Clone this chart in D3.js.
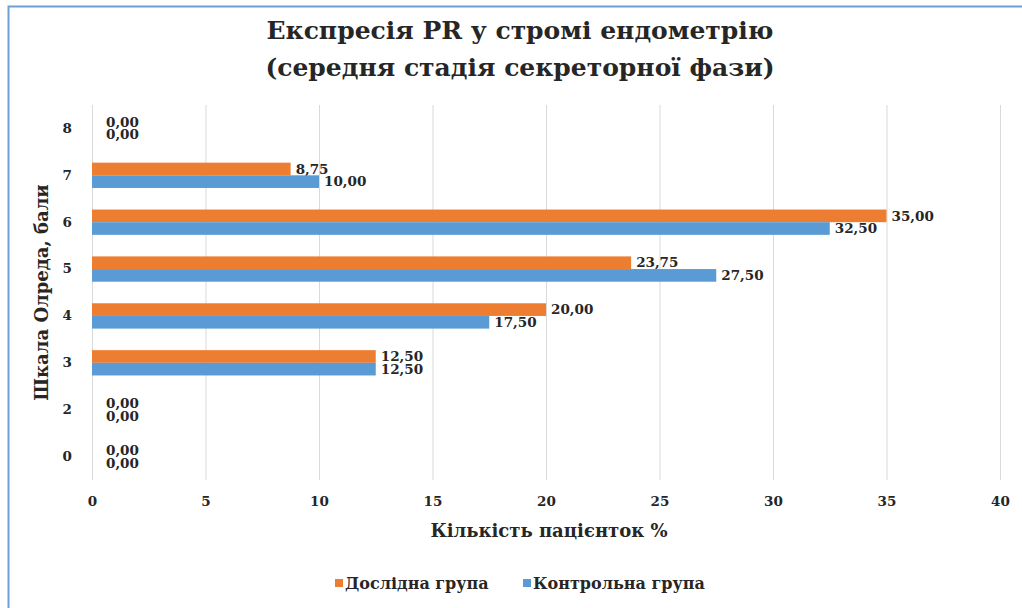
<!DOCTYPE html>
<html>
<head>
<meta charset="utf-8">
<script src="https://cdn.jsdelivr.net/npm/d3@7"></script>
<style>
  html, body { margin: 0; padding: 0; background: #ffffff; }
  svg { display: block; }
  text { font-family: "DejaVu Serif", "Liberation Serif", serif; font-weight: bold; }
</style>
</head>
<body>
<script>
// Allred score categories, listed top to bottom
const categories = ["8", "7", "6", "5", "4", "3", "2", "0"];
// Share of patients, %
const seriesNames = ["Дослідна група", "Контрольна група"];
const studyGroup = [0, 8.75, 35, 23.75, 20, 12.5, 0, 0];
const controlGroup = [0, 10, 32.5, 27.5, 17.5, 12.5, 0, 0];
const xTicks = [0, 5, 10, 15, 20, 25, 30, 35, 40];
const titleLines = ["Експресія PR у стромі ендометрію", "(середня стадія секреторної фази)"];
const xTitle = "Кількість пацієнток %";
const yTitle = "Шкала Олреда, бали";

const W = 1022, H = 608;
const colors = ["#ED7D31", "#5B9BD5"];
const ink = "#262626";
const plot = { left: 92, right: 1000, top: 105, bottom: 480 };

const svg = d3.select("body").append("svg").attr("width", W).attr("height", H);

// outer frame
svg.append("rect")
  .attr("x", 8.5).attr("y", 6.5).attr("width", W + 10).attr("height", H + 10)
  .attr("fill", "#ffffff").attr("stroke", "#6A9FD8").attr("stroke-width", 2);

const x = d3.scaleLinear().domain([0, 40]).range([plot.left, plot.right]);
const y = d3.scaleBand().domain(categories).range([plot.top, plot.bottom])
  .paddingInner(0.46).paddingOuter(0.23);
const ySub = d3.scaleBand().domain([0, 1]).range([0, y.bandwidth()]);

// vertical gridlines
svg.append("g").selectAll("line").data(xTicks).join("line")
  .attr("x1", d => x(d) + 0.5).attr("x2", d => x(d) + 0.5)
  .attr("y1", plot.top).attr("y2", plot.bottom)
  .attr("stroke", "#D9D9D9").attr("stroke-width", 1);

// x tick labels
const xAxis = d3.axisBottom(x).tickValues(xTicks).tickSize(0).tickPadding(16)
  .tickFormat(d3.format("d"));
const gx = svg.append("g").attr("transform", `translate(0,${plot.bottom})`).call(xAxis);
gx.select(".domain").remove();
gx.selectAll("text").attr("font-size", 13.5).attr("fill", ink);

// y tick labels
const yAxis = d3.axisLeft(y).tickSize(0).tickPadding(20);
const gy = svg.append("g").attr("transform", `translate(${plot.left},0)`).call(yAxis);
gy.select(".domain").remove();
gy.selectAll("text").attr("font-size", 13.5).attr("fill", ink);

// bars and value labels
const series = [studyGroup, controlGroup];
const fmt = v => d3.format(".2f")(v).replace(".", ",");
series.forEach((vals, si) => {
  const g = svg.append("g");
  g.selectAll("rect").data(vals).join("rect")
    .attr("x", x(0))
    .attr("y", (d, i) => y(categories[i]) + ySub(si))
    .attr("width", d => x(d) - x(0))
    .attr("height", ySub.bandwidth())
    .attr("fill", colors[si]);
  g.selectAll("text").data(vals).join("text")
    .attr("x", d => x(d) + (d === 0 ? 14 : 5))
    .attr("y", (d, i) => y(categories[i]) + ySub(si) + ySub.bandwidth() / 2)
    .attr("dy", "0.35em")
    .attr("font-size", 13.5).attr("fill", ink)
    .text(d => fmt(d));
});

// chart title
svg.append("g").selectAll("text").data(titleLines).join("text")
  .attr("x", 520).attr("y", (d, i) => 39 + i * 37)
  .attr("text-anchor", "middle").attr("font-size", 25).attr("fill", ink)
  .text(d => d);

// axis titles
svg.append("text").attr("x", 549).attr("y", 537).attr("text-anchor", "middle")
  .attr("font-size", 18).attr("fill", ink).text(xTitle);
svg.append("text")
  .attr("transform", `translate(48,${(plot.top + plot.bottom) / 2}) rotate(-90)`)
  .attr("text-anchor", "middle").attr("font-size", 18).attr("fill", ink).text(yTitle);

// legend
const legendX = [335, 523];
const lg = svg.append("g").selectAll("g").data(seriesNames).join("g")
  .attr("transform", (d, i) => `translate(${legendX[i]},583)`);
lg.append("rect").attr("x", 0).attr("y", -4).attr("width", 8).attr("height", 8)
  .attr("fill", (d, i) => colors[i]);
lg.append("text").attr("x", 10).attr("y", 0).attr("dy", "0.35em")
  .attr("font-size", 16).attr("fill", ink).text(d => d);
</script>
</body>
</html>
